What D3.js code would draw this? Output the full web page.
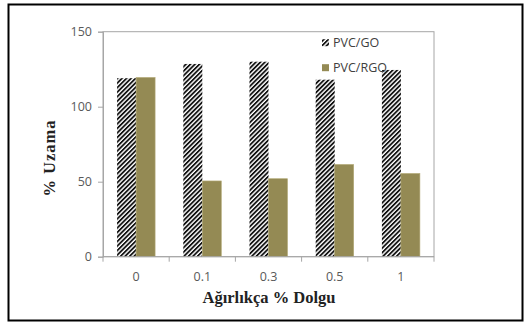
<!DOCTYPE html>
<html><head><meta charset="utf-8">
<script src="https://cdn.jsdelivr.net/npm/d3@7"></script>
<style>html,body{margin:0;padding:0;background:#fff;}svg{display:block;}</style>
</head><body>
<svg id="c" width="531" height="323"></svg>
<script>
const categories = ["0", "0.1", "0.3", "0.5", "1"];
const seriesNames = ["PVC/GO", "PVC/RGO"];
const goValues = [119, 128.5, 130, 118, 124.5];
const rgoValues = [119.5, 50.5, 52, 61.5, 55.5];
const yTicks = [0, 50, 100, 150];
const xTitle = "Ağırlıkça % Dolgu";
const yTitle = "% Uzama";

const svg = d3.select("#c");
const L = 103, R = 434, T = 31.7, B = 256.7;

const defs = svg.append("defs");
const pat = defs.append("pattern").attr("id", "hatch").attr("patternUnits", "userSpaceOnUse")
  .attr("width", 3.2).attr("height", 3.2).attr("patternTransform", "rotate(45)");
pat.append("rect").attr("width", 3.2).attr("height", 3.2).attr("fill", "#fff");
pat.append("rect").attr("width", 1.8).attr("height", 3.2).attr("fill", "#111");

// outer frame
svg.append("rect").attr("x", 8.5).attr("y", 4.5).attr("width", 514).attr("height", 316)
  .attr("fill", "none").attr("stroke", "#000").attr("stroke-width", 2);

const x0 = d3.scaleBand().domain(categories).range([L, R]).paddingInner(0.426).paddingOuter(0.213);
const x1 = d3.scaleBand().domain(seriesNames).range([0, x0.bandwidth()]);
const y = d3.scaleLinear().domain([0, 150]).range([B, T]);

// plot border
svg.append("rect").attr("x", L).attr("y", T).attr("width", R - L).attr("height", B - T)
  .attr("fill", "none").attr("stroke", "#a6a6a6").attr("stroke-width", 1);

const data = categories.map((c, i) => ({c, vals: [goValues[i], rgoValues[i]]}));
const g = svg.append("g");
data.forEach(d => {
  d.vals.forEach((v, j) => {
    g.append("rect")
      .attr("x", x0(d.c) + x1(seriesNames[j]))
      .attr("y", y(v))
      .attr("width", x1.bandwidth())
      .attr("height", y(0) - y(v))
      .attr("fill", j === 0 ? "url(#hatch)" : "#948a54")
      .attr("stroke", j === 0 ? "none" : "#b3ab78")
      .attr("stroke-width", j === 0 ? 0 : 0.6);
  });
});

// y axis
const yAxis = svg.append("g").attr("transform", `translate(${L},0)`)
  .call(d3.axisLeft(y).tickValues(yTicks).tickSize(5).tickPadding(6));
yAxis.select(".domain").attr("stroke", "#a6a6a6");
yAxis.selectAll(".tick line").attr("stroke", "#a6a6a6");
yAxis.selectAll("text").attr("fill", "#595959").attr("font-family", "'Open Sans', sans-serif").attr("font-size", 12.5);

// x axis
const xAxisG = svg.append("g").attr("transform", `translate(0,${B})`);
xAxisG.append("line").attr("x1", L).attr("x2", R).attr("y1", 0).attr("y2", 0).attr("stroke", "#a6a6a6");
const step = x0.step();
d3.range(categories.length + 1).forEach(k => {
  const xx = L + k * step;
  xAxisG.append("line").attr("x1", xx).attr("x2", xx).attr("y1", 0).attr("y2", 5).attr("stroke", "#a6a6a6");
});
xAxisG.selectAll("text.xl").data(categories).enter().append("text")
  .attr("x", d => x0(d) + x0.bandwidth() / 2).attr("y", 24)
  .attr("text-anchor", "middle").attr("fill", "#595959")
  .attr("font-family", "'Open Sans', sans-serif").attr("font-size", 12.5).text(d => d);

// titles
svg.append("text").attr("x", 269).attr("y", 303).attr("text-anchor", "middle")
  .attr("font-family", "'Liberation Serif', serif").attr("font-weight", "bold").attr("font-size", 16.5)
  .attr("fill", "#222").text(xTitle);
svg.append("text").attr("transform", "translate(55,158) rotate(-90)").attr("text-anchor", "middle")
  .attr("font-family", "'Liberation Serif', serif").attr("font-weight", "bold").attr("font-size", 16.5)
  .attr("letter-spacing", 1).attr("fill", "#222").text(yTitle);

// legend
const leg = svg.append("g");
seriesNames.forEach((s, i) => {
  const cy = 42.7 + i * 25;
  leg.append("rect").attr("x", 322).attr("y", cy - 3.5).attr("width", 7).attr("height", 7)
    .attr("fill", i === 0 ? "url(#hatch)" : "#948a54");
  leg.append("text").attr("x", 333).attr("y", cy + 4.5).attr("fill", "#404040")
    .attr("font-family", "'Open Sans', sans-serif").attr("font-size", 12.5).text(s);
});
</script>
</body></html>
